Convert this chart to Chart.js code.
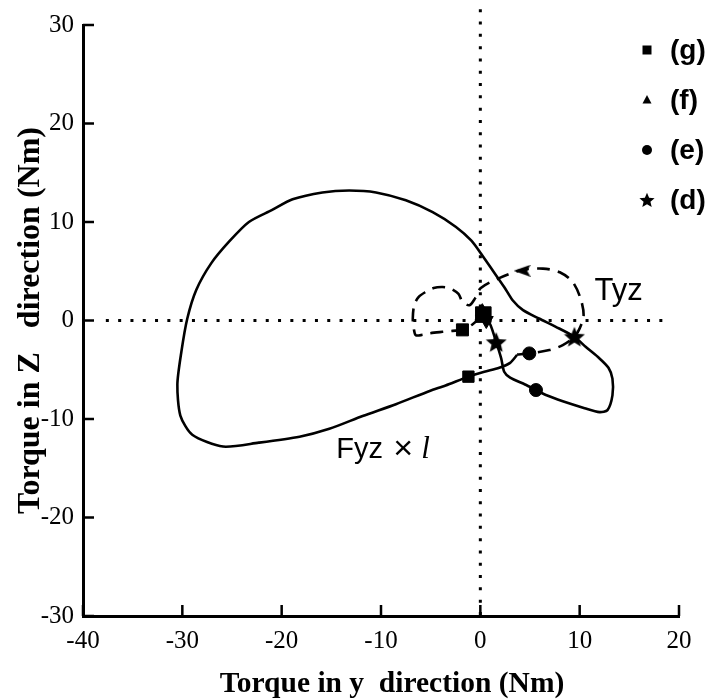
<!DOCTYPE html>
<html>
<head>
<meta charset="utf-8">
<script src="https://cdn.jsdelivr.net/npm/chart.js@4.4.1/dist/chart.umd.min.js"></script>
<style>
  html, body { margin: 0; padding: 0; background: #fff; }
  #wrap { width: 716px; height: 699px; }
</style>
</head>
<body>
<div id="wrap"><canvas id="c" width="716" height="699"></canvas></div>
<script>
// Axis ticks
const xTicks = [-40, -30, -20, -10, 0, 10, 20];
const yTicks = [-30, -20, -10, 0, 10, 20, 30];
const xTickLabels = ['-40', '-30', '-20', '-10', '0', '10', '20'];
const yTickLabels = ['-30', '-20', '-10', '0', '10', '20', '30'];

// Fyz x l trajectory (torque, Nm): y component and z component
const fyzY = [0.3, 1.0, 1.6, 2.1, 2.4, 3.0, 4.5, 5.6, 6.6, 8.3, 10.5, 12.0, 12.8, 13.3, 13.3, 12.9, 12.0, 10.6, 9.47, 7.6, 5.9, 4.3, 3.25, 2.4, 1.3, 0.2, -0.9, -2.45, -4.8, -7.5, -10.5, -13.2, -15.9, -18.9, -21.0, -23.3, -25.3, -27.1, -28.6, -29.5, -30.1, -30.5, -30.2, -29.0, -25.9, -22.3, -18.2, -15.2, -11.85, -8.5, -5.1, -3.5, -1.2, 0.4, 1.9, 3.0, 3.7];
const fyzZ = [0.6, -0.4, -2.2, -3.85, -5.2, -5.8, -6.5, -7.06, -7.57, -8.2, -8.9, -9.3, -9.1, -7.6, -5.9, -4.8, -3.85, -2.67, -1.65, -0.64, 0.2, 1.05, 2.06, 3.4, 5.0, 6.6, 8.1, 9.5, 11.0, 12.2, 13.0, 13.2, 13.0, 12.3, 11.2, 10.0, 8.0, 5.8, 3.1, 0.2, -3.2, -6.5, -9.65, -11.6, -12.8, -12.4, -11.8, -11.0, -9.7, -8.5, -7.15, -6.6, -5.7, -5.2, -4.8, -4.3, -3.5];

// Tyz trajectory (torque, Nm)
const tyzY = [3.7, 4.93, 6.95, 8.3, 9.47, 10.0, 10.4, 10.1, 9.3, 8.0, 6.3, 4.1, 1.9, 0.05, -0.5, -1.1, -1.8, -2.2, -3.0, -3.8, -4.7, -5.5, -6.2, -6.65, -6.8, -6.7, -6.5, -5.8, -5.1, -3.8, -2.8, -1.8, -0.8, 0.1];
const tyzZ = [-3.45, -3.34, -3.0, -2.5, -1.65, -0.8, 0.5, 2.2, 3.9, 4.9, 5.27, 5.1, 4.3, 3.3, 2.3, 1.55, 1.9, 2.7, 3.25, 3.4, 3.3, 2.9, 2.4, 1.6, 0.2, -0.8, -1.5, -1.45, -1.3, -1.15, -1.05, -0.95, -0.4, 0.4];

// Phase markers (g), (f), (e), (d): first entry on Fyz x l, second on Tyz
const phaseLabels = ['(g)', '(f)', '(e)', '(d)'];
const phaseGY = [-1.2, -1.8, 0.3];  const phaseGZ = [-5.7, -0.95, 0.6];
const phaseFY = [0.2, 0.6];         const phaseFZ = [0.9, 0.0];
const phaseEY = [5.6, 4.93];        const phaseEZ = [-7.06, -3.34];
const phaseDY = [1.6, 9.47];        const phaseDZ = [-2.2, -1.65];

// Direction arrow on Tyz
const arrowY = [4.2];
const arrowZ = [5.05];

// Curve labels and their anchor (left end, baseline)
const curveNames = ['Tyz', 'Fyz'];
const curveNameY = [11.5, -14.5];
const curveNameZ = [2.05, -14.0];

const pts = (xs, ys) => xs.map((v, i) => ({ x: v, y: ys[i] }));

function starCanvas(size) {
  const c = document.createElement('canvas');
  c.width = size; c.height = size;
  const g = c.getContext('2d');
  const R = size / 2, r = R * 0.45, cx = size / 2, cy = size / 2 + R * 0.08;
  g.beginPath();
  for (let i = 0; i < 10; i++) {
    const a = -Math.PI / 2 + i * Math.PI / 5;
    const rad = i % 2 ? r : R;
    g.lineTo(cx + rad * Math.cos(a), cy + rad * Math.sin(a));
  }
  g.closePath();
  g.fillStyle = '#000';
  g.fill();
  return c;
}
function arrowCanvas(w, h) {
  const c = document.createElement('canvas');
  c.width = w; c.height = h;
  const g = c.getContext('2d');
  g.beginPath();
  g.moveTo(0, h / 2); g.lineTo(w, 0); g.lineTo(w * 0.8, h / 2); g.lineTo(w, h);
  g.closePath();
  g.fillStyle = '#000';
  g.fill();
  return c;
}
const starBig = starCanvas(22);
const starSmall = starCanvas(16);
const arrowHead = arrowCanvas(17, 12);

// inward tick marks on both axes
const innerTicks = {
  id: 'innerTicks',
  afterDatasetsDraw(chart) {
    const { ctx, chartArea, scales } = chart;
    ctx.save();
    ctx.strokeStyle = '#000';
    ctx.lineWidth = 2.5;
    ctx.beginPath();
    xTicks.forEach(v => {
      const px = scales.x.getPixelForValue(v);
      ctx.moveTo(px, chartArea.bottom);
      ctx.lineTo(px, chartArea.bottom - 11);
    });
    yTicks.forEach(v => {
      const py = scales.y.getPixelForValue(v);
      ctx.moveTo(chartArea.left, py);
      ctx.lineTo(chartArea.left + 11, py);
    });
    ctx.stroke();
    ctx.restore();
  }
};

// curve names and marker key
const annotations = {
  id: 'annotations',
  afterDraw(chart) {
    const { ctx, scales } = chart;
    ctx.save();
    ctx.fillStyle = '#000';
    ctx.textBaseline = 'alphabetic';
    ctx.textAlign = 'left';
    curveNames.forEach((t, i) => {
      const px = scales.x.getPixelForValue(curveNameY[i]);
      const py = scales.y.getPixelForValue(curveNameZ[i]);
      ctx.font = (i === 0 ? '31px' : '29px') + ' "Liberation Sans", Arial, sans-serif';
      ctx.fillText(t, px, py);
      if (i === 1) {
        ctx.font = '34px "Liberation Sans", Arial, sans-serif';
        ctx.fillText('\u00d7', px + 57, py + 1);
        ctx.font = 'italic 31px "Liberation Serif", serif';
        ctx.fillText('l', px + 85, py);
      }
    });

    // key
    const keyX = 647, labelX = 670, keyTop = 50, keyStep = 50;
    ctx.font = 'bold 28px "Liberation Sans", Arial, sans-serif';
    ctx.textBaseline = 'middle';
    phaseLabels.forEach((t, i) => {
      const cy = keyTop + i * keyStep;
      ctx.beginPath();
      if (i === 0) {
        ctx.rect(keyX - 4.5, cy - 4.5, 9, 9); ctx.fill();
      } else if (i === 1) {
        ctx.moveTo(keyX, cy - 5); ctx.lineTo(keyX + 4.5, cy + 3.5); ctx.lineTo(keyX - 4.5, cy + 3.5);
        ctx.closePath(); ctx.fill();
      } else if (i === 2) {
        ctx.arc(keyX, cy, 5, 0, Math.PI * 2); ctx.fill();
      } else {
        ctx.drawImage(starSmall, keyX - 8, cy - 8);
      }
      ctx.fillText(t, labelX, cy + 1);
    });
    ctx.restore();
  }
};

const tickFont = { family: '"Liberation Serif", "Times New Roman", serif', size: 25 };

new Chart(document.getElementById('c'), {
  type: 'scatter',
  data: {
    datasets: [
      { data: [{ x: -37.7, y: 0 }, { x: 19.2, y: 0 }], showLine: true, borderColor: '#000', borderWidth: 3, borderDash: [3, 9.3], pointRadius: 0 },
      { data: [{ x: 0, y: 31.6 }, { x: 0, y: -30 }], showLine: true, borderColor: '#000', borderWidth: 3, borderDash: [3, 9.3], pointRadius: 0, clip: false },
      { data: pts(fyzY, fyzZ), showLine: true, borderColor: '#000', borderWidth: 2.6, tension: 0.25, pointRadius: 0 },
      { data: pts(tyzY, tyzZ), showLine: true, borderColor: '#000', borderWidth: 2.6, borderDash: [13, 8], tension: 0.3, pointRadius: 0 },
      { data: pts(phaseGY, phaseGZ), pointStyle: 'rect', pointRadius: [8, 8.5, 11], backgroundColor: '#000', borderColor: '#000' },
      { data: pts(phaseFY, phaseFZ), pointStyle: 'triangle', pointRadius: 8, pointRotation: [0, 180], backgroundColor: '#000', borderColor: '#000' },
      { data: pts(phaseEY, phaseEZ), pointStyle: 'circle', pointRadius: 6.5, backgroundColor: '#000', borderColor: '#000' },
      { data: pts(phaseDY, phaseDZ), pointStyle: starBig, pointRadius: 11 },
      { data: pts(arrowY, arrowZ), pointStyle: arrowHead, pointRadius: 8 }
    ]
  },
  options: {
    responsive: false,
    animation: false,
    events: [],
    layout: { padding: { top: 25, right: 37, left: 0, bottom: 0 } },
    plugins: { legend: { display: false }, tooltip: { enabled: false } },
    scales: {
      x: {
        type: 'linear', min: -40, max: 20,
        afterBuildTicks: s => { s.ticks = xTicks.map(v => ({ value: v })); },
        ticks: { callback: (v) => xTickLabels[xTicks.indexOf(v)], font: tickFont, color: '#000', padding: 10, maxRotation: 0, autoSkip: false },
        grid: { display: false, drawTicks: false },
        border: { display: true, color: '#000', width: 3 },
        title: { display: true, text: '   Torque in y  direction (Nm)', font: { family: '"Liberation Serif", "Times New Roman", serif', size: 29.5, weight: 'bold', lineHeight: 1.0 }, color: '#000', padding: { top: 0, bottom: 0 } },
        afterFit: s => { s.height = 83; }
      },
      y: {
        type: 'linear', min: -30, max: 30,
        afterBuildTicks: s => { s.ticks = yTicks.map(v => ({ value: v })); },
        ticks: { callback: (v) => yTickLabels[yTicks.indexOf(v)], font: tickFont, color: '#000', padding: 9, autoSkip: false },
        grid: { display: false, drawTicks: false },
        border: { display: true, color: '#000', width: 3 },
        title: { display: true, text: 'Torque in Z   direction (Nm)', font: { family: '"Liberation Serif", "Times New Roman", serif', size: 32, weight: 'bold', lineHeight: 1.0 }, color: '#000', padding: { top: 15, bottom: 0 } },
        afterFit: s => { s.width = 83; }
      }
    }
  },
  plugins: [innerTicks, annotations]
});
</script>
</body>
</html>
